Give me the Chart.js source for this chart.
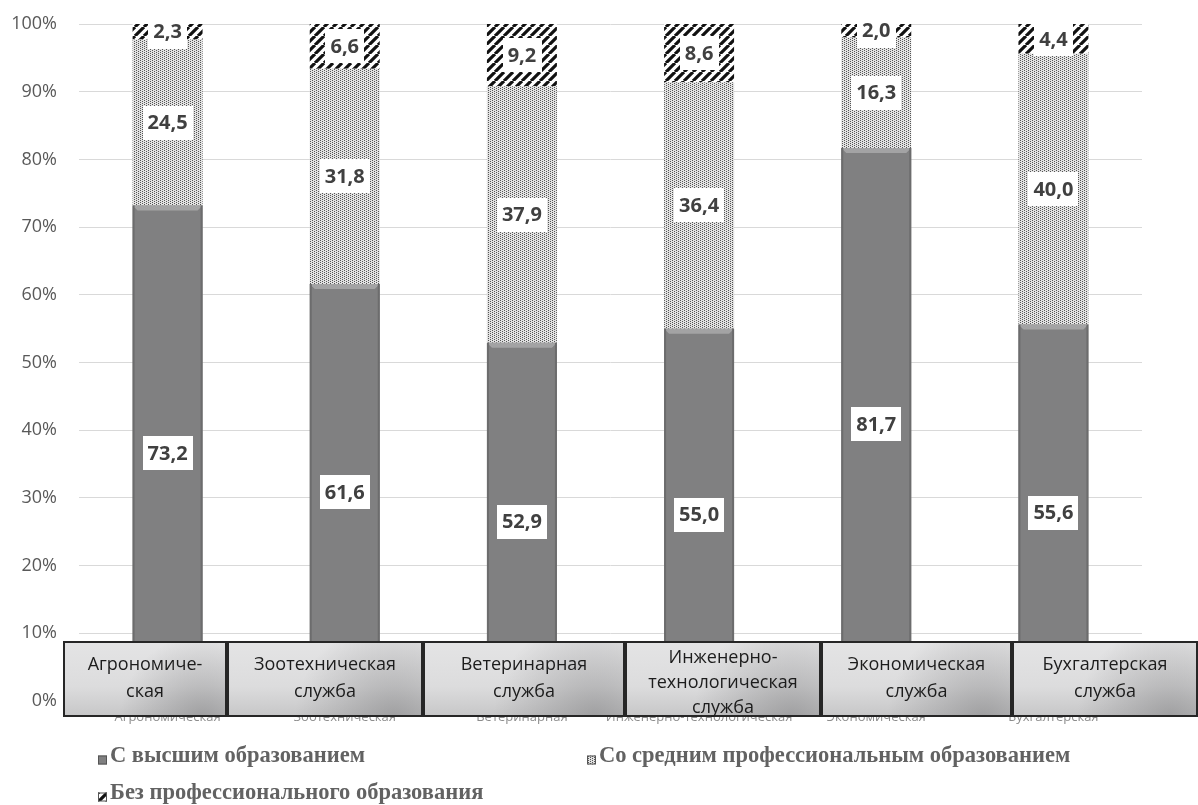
<!DOCTYPE html>
<html lang="ru">
<head>
<meta charset="utf-8">
<title>Структура кадров по уровню образования</title>
<script src="https://cdn.jsdelivr.net/npm/chart.js@4/dist/chart.umd.min.js"></script>
<style>
  html, body { margin: 0; padding: 0; background: #fff; }
  canvas { display: block; }
</style>
</head>
<body>
<canvas id="chart" width="1198" height="805"></canvas>
<script>
// Services (x-axis categories)
const categories = ['Агрономическая', 'Зоотехническая', 'Ветеринарная',
  'Инженерно-технологическая', 'Экономическая', 'Бухгалтерская'];

// Captions shown in the framed boxes under each bar
const boxLabels = [
  ['Агрономиче-', 'ская'],
  ['Зоотехническая', 'служба'],
  ['Ветеринарная', 'служба'],
  ['Инженерно-', 'технологическая', 'служба'],
  ['Экономическая', 'служба'],
  ['Бухгалтерская', 'служба']
];

// Series names
const seriesNames = ['С высшим образованием',
  'Со средним профессиональным образованием',
  'Без профессионального образования'];

// Shares of staff, %
const higherEd     = [73.2, 61.6, 52.9, 55.0, 81.7, 55.6];
const vocationalEd = [24.5, 31.8, 37.9, 36.4, 16.3, 40.0];
const noProfEd     = [2.3, 6.6, 9.2, 8.6, 2.0, 4.4];

// Y axis: 0..100 % in steps of 10
const yMin = 0, yMax = 100, yStep = 10;

// ---- fill patterns -------------------------------------------------------
function makeDotPattern() {
  const c = document.createElement('canvas');
  c.width = 4; c.height = 4;
  const g = c.getContext('2d');
  g.fillStyle = '#e2e2e2';
  g.fillRect(0, 0, 4, 4);
  g.fillStyle = '#555555';
  [[0, 0], [2, 1], [0, 2], [2, 3]].forEach(([x, y]) => g.fillRect(x, y, 1, 1));
  return g.createPattern(c, 'repeat');
}

function makeStripePattern() {
  const s = 9;
  const c = document.createElement('canvas');
  c.width = s; c.height = s;
  const g = c.getContext('2d');
  g.fillStyle = '#ffffff';
  g.fillRect(0, 0, s, s);
  g.strokeStyle = '#111111';
  g.lineWidth = 3.2;
  g.beginPath();
  [-s, 0, s].forEach(k => { g.moveTo(k, s); g.lineTo(k + s, 0); });
  g.stroke();
  return g.createPattern(c, 'repeat');
}

const dotFill = makeDotPattern();
const stripeFill = makeStripePattern();

// ---- plugins -------------------------------------------------------------
// Bevel highlight at the top of the solid grey segments
const bevel = {
  id: 'bevel',
  afterDatasetDraw(chart, args) {
    if (args.index !== 0) return;
    const ctx = chart.ctx;
    ctx.save();
    args.meta.data.forEach(bar => {
      const p = bar.getProps(['x', 'y', 'width'], true);
      const l = p.x - p.width / 2, r = p.x + p.width / 2, t = p.y;
      ctx.fillStyle = '#a3a3a4';
      ctx.beginPath();
      ctx.moveTo(l, t); ctx.lineTo(r, t);
      ctx.lineTo(r - 5, t + 5); ctx.lineTo(l + 5, t + 5);
      ctx.closePath(); ctx.fill();
      ctx.fillStyle = '#6c6c6d';
      ctx.fillRect(l, t, 2, bar.base - t);
      ctx.fillRect(r - 2, t, 2, bar.base - t);
    });
    ctx.restore();
  }
};

// Value labels in white boxes at the middle of each segment
const valueLabels = {
  id: 'valueLabels',
  afterDatasetsDraw(chart, args, opts) {
    const ctx = chart.ctx;
    ctx.save();
    ctx.font = opts.font;
    ctx.textAlign = 'center';
    ctx.textBaseline = 'middle';
    chart.data.datasets.forEach((ds, i) => {
      chart.getDatasetMeta(i).data.forEach((bar, j) => {
        const txt = ds.data[j].toFixed(1).replace('.', ',');
        const p = bar.getCenterPoint();
        const w = ctx.measureText(txt).width + opts.padX * 2;
        const h = opts.boxHeight;
        ctx.fillStyle = '#ffffff';
        ctx.fillRect(Math.round(p.x - w / 2), Math.round(p.y - h / 2), Math.round(w), h);
        ctx.fillStyle = opts.color;
        ctx.fillText(txt, p.x, p.y + 1);
      });
    });
    ctx.restore();
  }
};

// Framed caption boxes drawn over the category axis
const categoryBoxes = {
  id: 'categoryBoxes',
  afterDraw(chart, args, opts) {
    const ctx = chart.ctx;
    const e = opts.edges, top = opts.top, bottom = opts.bottom;
    ctx.save();
    for (let i = 0; i < boxLabels.length; i++) {
      const x0 = e[i], x1 = e[i + 1], w = x1 - x0, h = bottom - top;
      const base = ctx.createLinearGradient(0, top, 0, bottom);
      base.addColorStop(0, '#e4e4e5');
      base.addColorStop(0.6, '#dcdcdd');
      base.addColorStop(1, '#c6c6c7');
      ctx.fillStyle = base;
      ctx.fillRect(x0, top, w, h);
      const shade = ctx.createRadialGradient(x1 - w * 0.15, bottom, 0, x1 - w * 0.15, bottom, w * 0.5);
      shade.addColorStop(0, 'rgba(120,120,122,0.5)');
      shade.addColorStop(1, 'rgba(120,120,122,0)');
      ctx.fillStyle = shade;
      ctx.fillRect(x0, top, w, h);
      ctx.strokeStyle = '#262626';
      ctx.lineWidth = 2;
      ctx.strokeRect(x0 + 1, top + 1, w - 2, h - 2);

      const lines = boxLabels[i];
      const lh = lines.length > 2 ? 25 : 27;
      const mid = (top + bottom) / 2 + (lines.length > 2 ? 4 : -1);
      const y0 = mid - (lines.length - 1) * lh / 2;
      ctx.font = opts.font;
      ctx.fillStyle = '#1c1c1c';
      ctx.textAlign = 'center';
      ctx.textBaseline = 'middle';
      lines.forEach((t, k) => ctx.fillText(t, (x0 + x1) / 2, y0 + k * lh));
    }
    ctx.restore();
  }
};

// Series key below the chart, two columns
const seriesKey = {
  id: 'seriesKey',
  afterDraw(chart, args, opts) {
    const ctx = chart.ctx;
    ctx.save();
    chart.data.datasets.forEach((ds, i) => {
      const [x, y] = opts.slots[i];
      const m = opts.marker;
      ctx.fillStyle = ds.backgroundColor;
      ctx.fillRect(x, y - m / 2 + 4, m, m);
      ctx.strokeStyle = '#555';
      ctx.lineWidth = 1;
      ctx.strokeRect(x + 0.5, y - m / 2 + 4.5, m - 1, m - 1);
      ctx.font = opts.font;
      ctx.fillStyle = opts.color;
      ctx.textAlign = 'left';
      ctx.textBaseline = 'middle';
      ctx.fillText(ds.label, x + m + 3, y);
    });
    ctx.restore();
  }
};

// ---- chart ---------------------------------------------------------------
new Chart(document.getElementById('chart'), {
  type: 'bar',
  data: {
    labels: categories,
    datasets: [
      { label: seriesNames[0], data: higherEd, backgroundColor: '#808081' },
      { label: seriesNames[1], data: vocationalEd, backgroundColor: dotFill },
      { label: seriesNames[2], data: noProfEd, backgroundColor: stripeFill }
    ]
  },
  options: {
    responsive: false,
    animation: false,
    layout: { padding: { top: 24, right: 56, left: 0, bottom: 0 } },
    datasets: { bar: { categoryPercentage: 1, barPercentage: 0.395 } },
    scales: {
      x: {
        stacked: true,
        grid: { display: false },
        border: { display: false },
        ticks: {
          color: '#8c8c8c',
          font: { family: '"Open Sans", sans-serif', size: 13 },
          padding: 0, maxRotation: 0, autoSkip: false
        },
        afterFit(scale) { scale.height = 104; }
      },
      y: {
        stacked: true,
        min: yMin, max: yMax,
        ticks: {
          stepSize: yStep,
          callback: v => v + '%',
          color: '#595959',
          font: { family: '"Open Sans", sans-serif', size: 18 },
          padding: 22
        },
        grid: { color: '#d9d9d9', lineWidth: 1, drawTicks: false },
        border: { display: false },
        afterFit(scale) {
          scale.width = 79;
          scale.paddingTop = 0;
          scale.paddingBottom = 0;
        }
      }
    },
    plugins: {
      legend: { display: false },
      tooltip: { enabled: false },
      valueLabels: { font: 'bold 20px "Open Sans", sans-serif', color: '#404040', padX: 5, boxHeight: 34 },
      categoryBoxes: {
        edges: [63, 227, 423, 625, 821, 1012, 1198],
        top: 641, bottom: 717,
        font: '18px "Open Sans", sans-serif'
      },
      seriesKey: {
        slots: [[98, 756], [587, 756], [98, 793]],
        marker: 9,
        font: 'bold 22.5px "Liberation Serif", serif',
        color: '#626262'
      }
    }
  },
  plugins: [bevel, valueLabels, categoryBoxes, seriesKey]
});
</script>
</body>
</html>
